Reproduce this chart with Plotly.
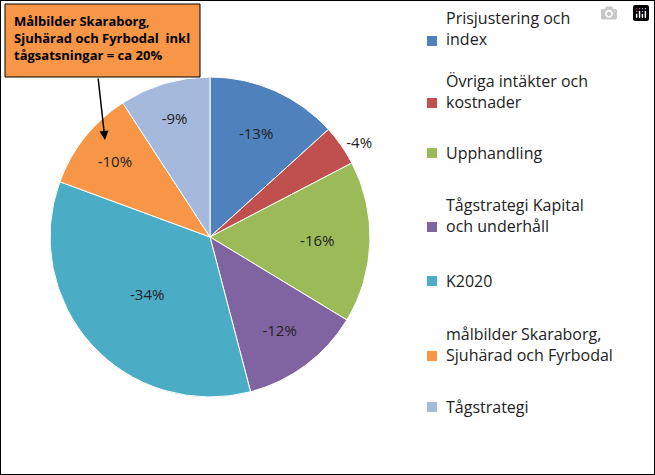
import plotly.graph_objects as go

labels = ["Prisjustering och<br>index", "Övriga intäkter och<br>kostnader", "Upphandling",
          "Tågstrategi Kapital<br>och underhåll", "K2020",
          "målbilder Skaraborg,<br>Sjuhärad och Fyrbodal", "Tågstrategi"]
values = [13, 4, 16, 12, 34, 10, 9]
texts = ["-13%", "-4%", "-16%", "-12%", "-34%", "-10%", "-9%"]
colors = ["#4F81BD", "#C0504D", "#9BBB59", "#8064A2", "#4BACC6", "#F79646", "#A5B9DD"]
legend_y = [48, 110, 160, 234, 288, 363, 414]

fig = go.Figure()
fig.add_trace(go.Pie(
    values=values, labels=labels, text=texts, textinfo="text",
    textposition=["inside", "outside", "inside", "inside", "inside", "inside", "inside"],
    insidetextorientation="horizontal",
    sort=False, direction="clockwise", rotation=0,
    marker=dict(colors=colors, line=dict(color="white", width=1)),
    textfont=dict(size=15, color="#222222"),
    domain=dict(x=[50 / 655, 370 / 655], y=[78 / 475, 398 / 475]),
    showlegend=False,
))

W, H = 655, 475
for lab, col, y in zip(labels, colors, legend_y):
    fig.add_shape(type="rect", xref="paper", yref="paper",
                  x0=427 / W, x1=437 / W, y0=1 - (y - 12) / H, y1=1 - (y - 2) / H,
                  fillcolor=col, line=dict(width=0))
    fig.add_annotation(x=444 / W, y=1 - (y - 7) / H if "<br>" not in lab else 1 - (y - 19) / H,
                       xref="paper", yref="paper", text=lab, showarrow=False,
                       xanchor="left", yanchor="middle", align="left",
                       font=dict(size=16, color="#222222"))

fig.add_annotation(x=105 / W, y=1 - 140 / H, ax=-7, ay=-63,
                   xref="paper", yref="paper", text="", showarrow=True,
                   arrowhead=2, arrowsize=1.2, arrowwidth=1.5, arrowcolor="black")
fig.add_shape(type="rect", xref="paper", yref="paper",
              x0=5 / W, x1=200 / W, y0=1 - 77 / H, y1=1 - 4 / H,
              fillcolor="#F79646", line=dict(color="black", width=1))
fig.add_annotation(x=12 / W, y=1 - 10 / H, xref="paper", yref="paper",
                   xanchor="left", yanchor="top",
                   text="<b>Målbilder Skaraborg,<br>Sjuhärad och Fyrbodal  inkl<br>tågsatsningar = ca 20%</b>",
                   showarrow=False, align="left", font=dict(size=13, color="black"))
fig.add_shape(type="rect", xref="paper", yref="paper", x0=0, x1=1, y0=0, y1=1,
              line=dict(color="black", width=2))

fig.update_layout(width=W, height=H, margin=dict(l=0, r=0, t=0, b=0),
                  paper_bgcolor="white", font=dict(family="Open Sans"))
fig.write_html("out.html", post_script="document.body.style.margin='0';document.body.style.overflow='hidden';")
